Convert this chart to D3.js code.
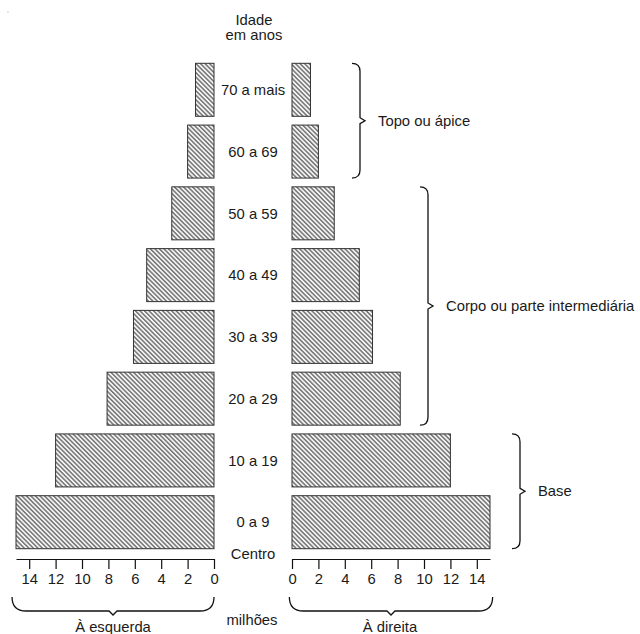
<!DOCTYPE html>
<html><head><meta charset="utf-8">
<script src="https://cdn.jsdelivr.net/npm/d3@7"></script>
<style>
html,body{margin:0;padding:0;background:#fff;}
text{font-family:"Liberation Sans",Arial,sans-serif;fill:#1a1a1a;}
</style></head>
<body><svg id="c" width="640" height="634"></svg>
<script>
const categories = ["70 a mais","60 a 69","50 a 59","40 a 49","30 a 39","20 a 29","10 a 19","0 a 9"];
const leftValues  = [1.4, 2.0, 3.2, 5.1, 6.1, 8.1, 12.0, 15.0];
const rightValues = [1.4, 2.0, 3.2, 5.1, 6.1, 8.2, 12.0, 15.0];
const tickValues = [0,2,4,6,8,10,12,14];
const groups = [
  {label:"Topo ou ápice", from:"70 a mais", to:"60 a 69"},
  {label:"Corpo ou parte intermediária", from:"50 a 59", to:"20 a 29"},
  {label:"Base", from:"10 a 19", to:"0 a 9"}
];

const svg = d3.select("#c");
const FS = 14.8;

const defs = svg.append("defs");
const pat = defs.append("pattern").attr("id","hatch").attr("patternUnits","userSpaceOnUse")
  .attr("width",3.2).attr("height",3.2).attr("patternTransform","rotate(-45)");
pat.append("rect").attr("width",3.2).attr("height",3.2).attr("fill","#f4f4f4");
pat.append("rect").attr("x",0).attr("y",0).attr("width",1.5).attr("height",3.2).attr("fill","#757575");

const y = d3.scaleBand().domain(categories).range([63.3,548.7]).paddingInner(0.142).paddingOuter(0);
const xL = d3.scaleLinear().domain([0,15]).range([214,16]);
const xR = d3.scaleLinear().domain([0,15]).range([292,490]);

const data = categories.map((c,i)=>({c, l:leftValues[i], r:rightValues[i]}));

svg.append("g").selectAll("rect").data(data).join("rect")
  .attr("x",d=>xL(d.l)).attr("y",d=>y(d.c))
  .attr("width",d=>xL(0)-xL(d.l)).attr("height",y.bandwidth())
  .attr("fill","url(#hatch)").attr("stroke","#333").attr("stroke-width",1);
svg.append("g").selectAll("rect").data(data).join("rect")
  .attr("x",xR(0)).attr("y",d=>y(d.c))
  .attr("width",d=>xR(d.r)-xR(0)).attr("height",y.bandwidth())
  .attr("fill","url(#hatch)").attr("stroke","#333").attr("stroke-width",1);

svg.append("g").selectAll("text").data(categories).join("text")
  .attr("x",253).attr("y",d=>y(d)+y.bandwidth()/2).attr("dy","0.35em")
  .attr("text-anchor","middle").attr("font-size",FS).text(d=>d);

// title
svg.append("text").attr("x",254).attr("y",25).attr("text-anchor","middle").attr("font-size",FS).text("Idade");
svg.append("text").attr("x",254).attr("y",40).attr("text-anchor","middle").attr("font-size",FS).text("em anos");
svg.append("text").attr("x",253).attr("y",559).attr("text-anchor","middle").attr("font-size",FS).text("Centro");
svg.append("text").attr("x",252).attr("y",625).attr("text-anchor","middle").attr("font-size",FS).text("milhões");
svg.append("circle").attr("cx",8).attr("cy",12).attr("r",0.6).attr("fill","#999");

// axes
const axY = 559;
function styleAxis(g){
  g.select(".domain").attr("stroke","#111").attr("stroke-width",1.2);
  g.selectAll(".tick line").attr("stroke","#111").attr("stroke-width",1.2);
  g.selectAll(".tick text").attr("font-size",FS).attr("fill","#1a1a1a")
    .style("font-family","'Liberation Sans',Arial,sans-serif");
}
svg.append("g").attr("transform",`translate(0,${axY})`)
  .call(d3.axisBottom(xL).tickValues(tickValues).tickSize(10).tickSizeOuter(0).tickPadding(4))
  .call(styleAxis);
svg.append("g").attr("transform",`translate(0,${axY})`)
  .call(d3.axisBottom(xR).tickValues(tickValues).tickSize(10).tickSizeOuter(0).tickPadding(4))
  .call(styleAxis);

// braces
function vBrace(x, y0, y1, r, tip){
  const ym = (y0+y1)/2;
  return `M${x-r},${y0} Q${x},${y0} ${x},${y0+r} L${x},${ym-3} L${x+tip},${ym} L${x},${ym+3} L${x},${y1-r} Q${x},${y1} ${x-r},${y1}`;
}
function hBrace(x0, x1, yb, r, tip){
  const xm = (x0+x1)/2;
  return `M${x0},${yb-r} Q${x0},${yb} ${x0+r},${yb} L${xm-4},${yb} L${xm},${yb+tip} L${xm+4},${yb} L${x1-r},${yb} Q${x1},${yb} ${x1},${yb-r}`;
}
const braceX = [360, 428, 520];
groups.forEach((g,i)=>{
  const y0 = y(g.from), y1 = y(g.to)+y.bandwidth();
  const bx = braceX[i];
  svg.append("path").attr("d",vBrace(bx,y0,y1,8,5)).attr("fill","none").attr("stroke","#111").attr("stroke-width",1.3);
  svg.append("text").attr("x",bx+18).attr("y",(y0+y1)/2).attr("dy","0.35em").attr("font-size",FS).text(g.label);
});
svg.append("path").attr("d",hBrace(xL(15.3),xL(0),611,14,4)).attr("fill","none").attr("stroke","#111").attr("stroke-width",1.3);
svg.append("path").attr("d",hBrace(xR(-0.2),xR(15.2),611,14,4)).attr("fill","none").attr("stroke","#111").attr("stroke-width",1.3);
svg.append("text").attr("x",113).attr("y",632).attr("text-anchor","middle").attr("font-size",FS).text("À esquerda");
svg.append("text").attr("x",390).attr("y",632).attr("text-anchor","middle").attr("font-size",FS).text("À direita");
</script></body></html>
